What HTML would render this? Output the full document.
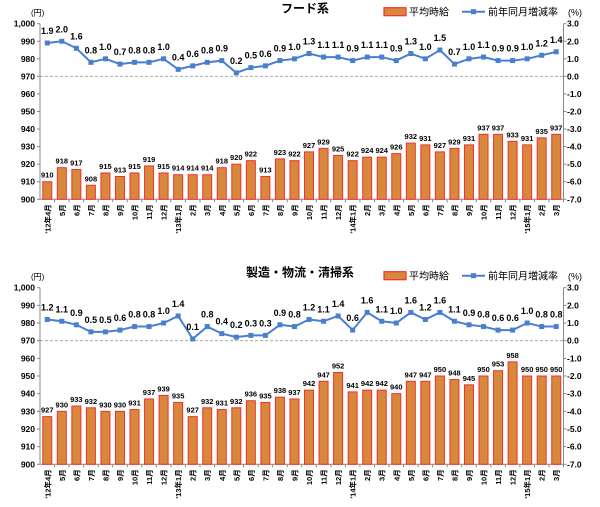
<!DOCTYPE html>
<html><head><meta charset="utf-8"><style>
body{margin:0;background:#fff;width:600px;height:507px;overflow:hidden}
svg{display:block;font-family:"Liberation Sans","Noto Sans CJK JP",sans-serif}
</style></head><body>
<svg id="s" width="600" height="507" xmlns="http://www.w3.org/2000/svg"></svg>
<script>
const S=document.getElementById('s');let h='';
const cats=[];for(let i=0;i<36;i++){const m=(i+3)%12+1;let t=m+'月';if(i==0)t="'12年4月";if(i==9)t="'13年1月";if(i==21)t="'14年1月";if(i==33)t="'15年1月";cats.push(t);}
function chart(cfg){
 const L=40,R=563.5,T=cfg.top,B=cfg.bot,W=(R-L)/36;
 const yv=v=>B-(v-900)/100*(B-T), yp=p=>T+(3-p)/10*(B-T);
 h+=`<text x="${cfg.tx}" y="${T-11}" font-size="12" font-weight="bold" text-anchor="middle">${cfg.title}</text>`;
 h+=`<rect x="384" y="${T-16}" width="22" height="8" fill="#d8883c" stroke="#f03030" stroke-width="1.2"/><text x="409" y="${T-8}" font-size="10">平均時給</text>`;
 h+=`<line x1="462" y1="${T-12}" x2="485" y2="${T-12}" stroke="#4a7fd0" stroke-width="2"/><rect x="471" y="${T-14.5}" width="5" height="5" fill="#4a7fd0"/><text x="488" y="${T-8}" font-size="10">前年同月増減率</text>`;
 h+=`<text x="575" y="${T-8}" font-size="9" text-anchor="middle">(%)</text><text x="31" y="${T-8}" font-size="8">(円)</text>`;
 for(let i=0;i<=10;i++){const y=T+i*(B-T)/10;const v=1000-i*10;
  h+=`<text x="35" y="${y+3}" font-size="8.5" font-weight="bold" text-anchor="end">${v==1000?'1,000':v}</text>`;
  h+=`<text x="567" y="${y+3}" font-size="8.5" font-weight="bold">${(3-i).toFixed(1)}</text>`;
  h+=`<line x1="${L-3}" y1="${y}" x2="${L}" y2="${y}" stroke="#888"/><line x1="${R}" y1="${y}" x2="${R+3}" y2="${y}" stroke="#888"/>`;}
 h+=`<line x1="${L}" y1="${yp(0)}" x2="${R}" y2="${yp(0)}" stroke="#aaa" stroke-dasharray="3,2"/>`;
 h+=`<line x1="${L}" y1="${T}" x2="${L}" y2="${B}" stroke="#888"/><line x1="${R}" y1="${T}" x2="${R}" y2="${B}" stroke="#888"/><line x1="${L}" y1="${B}" x2="${R}" y2="${B}" stroke="#888"/>`;
 let pts=[];
 cfg.bars.forEach((v,i)=>{const cx=L+W*(i+.5),y=yv(v);
  h+=`<rect x="${cx-4.5}" y="${y}" width="9" height="${B-y}" fill="#d8883c" stroke="#f03030" stroke-width="1"/>`;
  h+=`<text x="${cx}" y="${y-4}" font-size="7.5" font-weight="bold" text-anchor="middle">${v}</text>`;
  h+=`<line x1="${L+W*(i+1)}" y1="${B}" x2="${L+W*(i+1)}" y2="${B+3}" stroke="#888"/>`;
  h+=`<text transform="translate(${cx+3},${B+5}) rotate(-90)" font-size="7.5" font-weight="bold" text-anchor="end">${cats[i]}</text>`;
  const p=cfg.line[i];pts.push([cx,yp(p)]);});
 h+=`<polyline points="${pts.map(p=>p.join(',')).join(' ')}" fill="none" stroke="#4a7fd0" stroke-width="2"/>`;
 pts.forEach((p,i)=>{h+=`<rect x="${p[0]-2.5}" y="${p[1]-2.5}" width="5" height="5" fill="#4a7fd0"/><text x="${p[0]}" y="${p[1]-9}" font-size="9" font-weight="bold" text-anchor="middle">${cfg.line[i].toFixed(1)}</text>`;});
}
chart({top:23.7,bot:199.3,title:'フード系',tx:305,
bars:[910,918,917,908,915,913,915,919,915,914,914,914,918,920,922,913,923,922,927,929,925,922,924,924,926,932,931,927,929,931,937,937,933,931,935,937],
line:[1.9,2.0,1.6,0.8,1.0,0.7,0.8,0.8,1.0,0.4,0.6,0.8,0.9,0.2,0.5,0.6,0.9,1.0,1.3,1.1,1.1,0.9,1.1,1.1,0.9,1.3,1.0,1.5,0.7,1.0,1.1,0.9,0.9,1.0,1.2,1.4]});
chart({top:287.7,bot:464.3,title:'製造・物流・清掃系',tx:300,
bars:[927,930,933,932,930,930,931,937,939,935,927,932,931,932,936,935,938,937,942,947,952,941,942,942,940,947,947,950,948,945,950,953,958,950,950,950],
line:[1.2,1.1,0.9,0.5,0.5,0.6,0.8,0.8,1.0,1.4,0.1,0.8,0.4,0.2,0.3,0.3,0.9,0.8,1.2,1.1,1.4,0.6,1.6,1.1,1.0,1.6,1.2,1.6,1.1,0.9,0.8,0.6,0.6,1.0,0.8,0.8]});
S.innerHTML=h;
</script>
</body></html>
